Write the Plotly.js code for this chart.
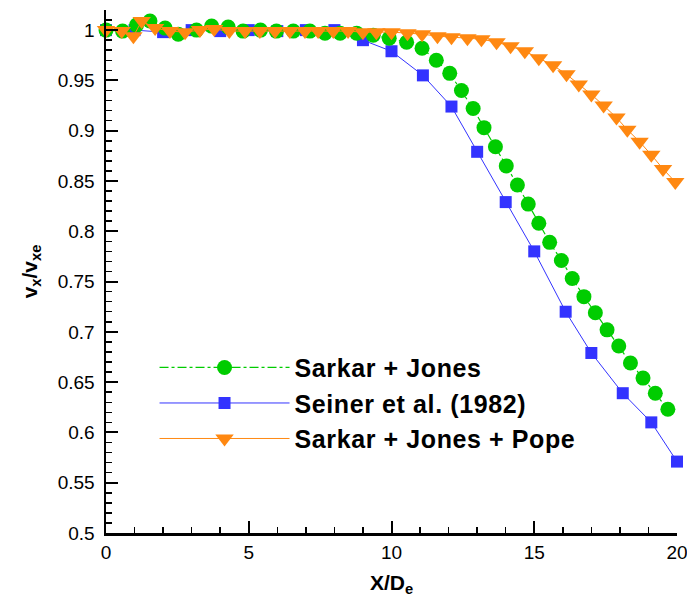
<!DOCTYPE html>
<html>
<head>
<meta charset="utf-8">
<script src="https://cdn.plot.ly/plotly-3.0.1.min.js"></script>
<style>html,body{margin:0;padding:0;background:#fff;}#chart{width:687px;height:597px;}
.legendtext{letter-spacing:0.6px;}</style>
</head>
<body>
<div id="chart"></div>
<script>
// Seiner et al. (1982) experimental data
const seinerX = [0, 1, 2, 3, 4, 5, 6, 7, 8, 9, 10, 11.1, 12.1, 13, 14, 15, 16.1, 17, 18.1, 19.1, 20];
const seinerY = [1.0, 1.0, 0.998, 1.0, 0.999, 1.0, 0.999, 1.0, 1.0, 0.99, 0.979, 0.955, 0.924, 0.879, 0.829, 0.78, 0.72, 0.679, 0.639, 0.61, 0.571];

// Sarkar + Jones
const sjX = [0, 0.58, 1.07, 1.54, 2.07, 2.53, 3.17, 3.7, 4.28, 4.8, 5.41, 5.97, 6.56, 7.14, 7.67, 8.2, 8.78, 9.36, 9.92, 10.53, 11.07, 11.57, 12.04, 12.45, 12.86, 13.24, 13.64, 14.02, 14.41, 14.79, 15.16, 15.54, 15.95, 16.33, 16.74, 17.14, 17.55, 17.96, 18.37, 18.81, 19.24, 19.68];
const sjY = [1.0, 0.999, 1.005, 1.009, 1.002, 0.996, 1.0, 1.004, 1.003, 0.999, 1.0, 0.999, 0.999, 0.999, 0.997, 0.997, 0.997, 0.995, 0.992, 0.988, 0.982, 0.970, 0.957, 0.940, 0.922, 0.903, 0.884, 0.865, 0.846, 0.827, 0.808, 0.789, 0.771, 0.753, 0.735, 0.719, 0.702, 0.686, 0.669, 0.654, 0.639, 0.623];

// Sarkar + Jones + Pope
const sjpX = [0, 0.55, 0.96, 1.25, 1.72, 2.24, 2.77, 3.29, 3.79, 4.32, 4.87, 5.39, 5.92, 6.44, 6.97, 7.43, 7.96, 8.48, 9.0, 9.47, 10.0, 10.56, 11.07, 11.61, 12.1, 12.66, 13.15, 13.68, 14.17, 14.67, 15.16, 15.66, 16.13, 16.56, 17.0, 17.43, 17.88, 18.26, 18.69, 19.1, 19.51, 19.94];
const sjpY = [1.0, 0.999, 0.994, 1.009, 1.002, 0.999, 0.998, 1.0, 1.001, 0.999, 0.999, 0.999, 0.999, 0.999, 0.999, 0.999, 0.999, 0.999, 0.998, 0.998, 0.998, 0.997, 0.996, 0.994, 0.993, 0.992, 0.991, 0.988, 0.984, 0.979, 0.972, 0.965, 0.956, 0.946, 0.936, 0.925, 0.913, 0.901, 0.889, 0.876, 0.862, 0.849];

const names = ['Sarkar + Jones', 'Seiner et al. (1982)', 'Sarkar + Jones + Pope'];

const traces = [
  {
    x: seinerX, y: seinerY, name: names[1], type: 'scatter', mode: 'lines+markers',
    line: {color: '#3333ff', width: 1},
    marker: {symbol: 'square', size: 12, color: '#3333ff'},
    cliponaxis: false, legendrank: 2
  },
  {
    x: sjX, y: sjY, name: names[0], type: 'scatter', mode: 'lines+markers',
    line: {color: '#00cc00', width: 1.2, dash: 'dashdot'},
    marker: {symbol: 'circle', size: 15, color: '#00cc00'},
    cliponaxis: false, legendrank: 1
  },
  {
    x: sjpX, y: sjpY, name: names[2], type: 'scatter', mode: 'lines+markers',
    line: {color: '#ff8811', width: 1},
    marker: {symbol: 'triangle-down', size: 16, color: '#ff8811'},
    cliponaxis: false, legendrank: 3
  }
];

const font = 'Liberation Sans, Arial, Helvetica, sans-serif';

const layout = {
  width: 687, height: 597,
  margin: {l: 106, r: 10, t: 10, b: 64},
  paper_bgcolor: '#ffffff', plot_bgcolor: '#ffffff',
  font: {family: font, color: '#000'},
  showlegend: true,
  legend: {
    x: 0.085, y: 0.36, xanchor: 'left', yanchor: 'top',
    bgcolor: 'rgba(0,0,0,0)', borderwidth: 0,
    font: {family: font, size: 25, color: '#000', weight: 'bold'},
    itemwidth: 130, tracegroupgap: 0
  },
  xaxis: {
    range: [0, 20], showgrid: false, zeroline: false,
    showline: true, linecolor: '#000', linewidth: 2.5, mirror: false,
    ticks: 'inside', ticklen: 12, tickwidth: 2, tickcolor: '#000',
    tick0: 0, dtick: 5, ticklabelstandoff: 1, ticklabeloverflow: 'allow',
    tickfont: {family: font, size: 19, color: '#000'},
    minor: {ticks: 'inside', dtick: 1, ticklen: 6, tickwidth: 1.5, tickcolor: '#000'},
    title: {text: '<b>X/D<sub>e</sub></b>', font: {family: font, size: 21, color: '#000'}, standoff: 17}
  },
  yaxis: {
    range: [0.5, 1.02], showgrid: false, zeroline: false,
    showline: true, linecolor: '#000', linewidth: 2.5, mirror: false,
    ticks: 'inside', ticklen: 12, tickwidth: 2, tickcolor: '#000',
    tick0: 0.5, dtick: 0.05, ticklabelstandoff: 5,
    tickfont: {family: font, size: 19, color: '#000'},
    minor: {ticks: 'inside', dtick: 0.01, ticklen: 6, tickwidth: 1.5, tickcolor: '#000'},
    title: {text: '<b>v<sub>x</sub>/v<sub>xe</sub></b>', font: {family: font, size: 21, color: '#000'}, standoff: 15}
  }
};

Plotly.newPlot('chart', traces, layout, {displayModeBar: false, staticPlot: true});
</script>
</body>
</html>
